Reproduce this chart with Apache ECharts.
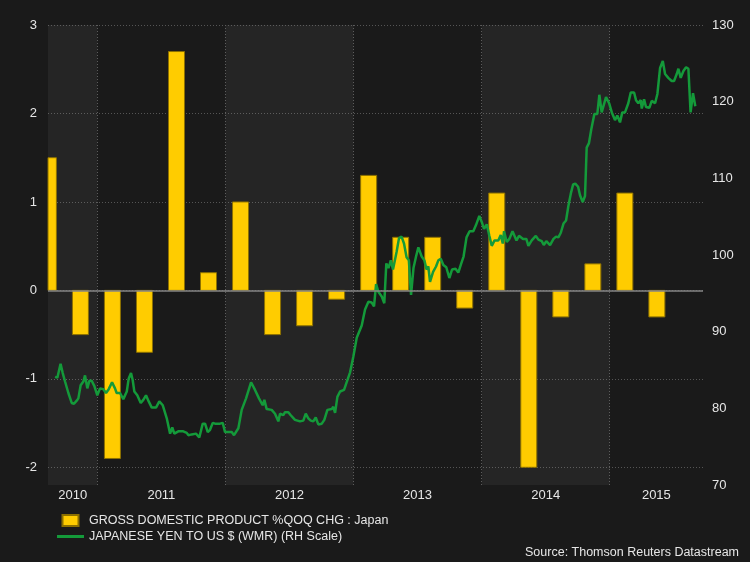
<!DOCTYPE html>
<html><head><meta charset="utf-8">
<script src="https://cdn.jsdelivr.net/npm/echarts@6/dist/echarts.min.js"></script>
<style>html,body{margin:0;padding:0;background:#1a1a1a;}#c{width:750px;height:562px;}</style>
</head><body><div id="c"></div>
<script>
// GDP quarterly % q/q change (Japan)
const quarters = ['2010Q3','2010Q4','2011Q1','2011Q2','2011Q3','2011Q4','2012Q1','2012Q2','2012Q3','2012Q4',
                  '2013Q1','2013Q2','2013Q3','2013Q4','2014Q1','2014Q2','2014Q3','2014Q4','2015Q1','2015Q2'];
const gdpQoQ = [1.5,-0.5,-1.9,-0.7,2.7,0.2,1.0,-0.5,-0.4,-0.1,1.3,0.6,0.6,-0.2,1.1,-2.0,-0.3,0.3,1.1,-0.3];

// JPY per USD (dates as decimal years)
const yenDates = [2010.670,2010.688,2010.713,2010.730,2010.748,2010.774,2010.800,2010.818,2010.839,2010.852,2010.870,2010.891,2010.904,2010.922,2010.938,2010.956,2010.977,2011.000,2011.021,2011.047,2011.068,2011.089,2011.115,2011.138,2011.151,2011.177,2011.203,2011.230,2011.245,2011.263,2011.276,2011.289,2011.312,2011.339,2011.359,2011.380,2011.401,2011.425,2011.458,2011.484,2011.511,2011.542,2011.568,2011.585,2011.601,2011.632,2011.671,2011.698,2011.710,2011.737,2011.770,2011.796,2011.823,2011.841,2011.862,2011.880,2011.901,2011.919,2011.958,2011.979,2011.997,2012.023,2012.049,2012.067,2012.101,2012.127,2012.161,2012.200,2012.231,2012.262,2012.291,2012.304,2012.322,2012.361,2012.387,2012.413,2012.426,2012.452,2012.465,2012.491,2012.510,2012.543,2012.582,2012.608,2012.627,2012.647,2012.666,2012.686,2012.705,2012.725,2012.752,2012.772,2012.796,2012.830,2012.842,2012.856,2012.874,2012.895,2012.926,2012.942,2012.973,2012.998,2013.025,2013.064,2013.090,2013.116,2013.142,2013.160,2013.176,2013.194,2013.220,2013.240,2013.256,2013.273,2013.291,2013.308,2013.336,2013.355,2013.375,2013.394,2013.414,2013.432,2013.449,2013.468,2013.488,2013.506,2013.532,2013.553,2013.570,2013.584,2013.597,2013.621,2013.644,2013.662,2013.681,2013.701,2013.724,2013.748,2013.769,2013.796,2013.818,2013.839,2013.859,2013.882,2013.906,2013.935,2013.956,2013.982,2014.003,2014.019,2014.040,2014.060,2014.079,2014.101,2014.130,2014.149,2014.165,2014.175,2014.196,2014.216,2014.241,2014.253,2014.272,2014.292,2014.323,2014.349,2014.365,2014.391,2014.423,2014.443,2014.469,2014.485,2014.505,2014.534,2014.561,2014.581,2014.599,2014.618,2014.639,2014.659,2014.677,2014.696,2014.714,2014.731,2014.753,2014.768,2014.789,2014.807,2014.820,2014.838,2014.856,2014.880,2014.903,2014.919,2014.937,2014.971,2014.995,2015.016,2015.041,2015.059,2015.080,2015.098,2015.119,2015.145,2015.164,2015.190,2015.205,2015.223,2015.242,2015.250,2015.268,2015.283,2015.309,2015.328,2015.354,2015.372,2015.393,2015.414,2015.432,2015.457,2015.484,2015.502,2015.523,2015.536,2015.554,2015.575,2015.596,2015.614,2015.631,2015.650,2015.668];
const yenValues = [84.1,84.0,85.8,84.6,83.5,82.0,80.7,80.6,81.0,81.3,83.0,83.5,84.3,82.6,83.6,83.6,82.9,81.7,82.6,82.5,82.0,82.5,83.4,82.6,82.0,82.0,81.2,82.2,83.9,84.6,83.7,82.2,81.7,80.7,81.1,81.7,80.9,80.1,80.1,80.9,80.4,78.7,76.7,77.5,76.7,77.0,77.0,76.8,76.5,76.6,76.7,76.2,78.0,78.0,76.9,77.2,78.1,78.0,78.0,78.1,76.9,76.9,76.9,76.5,77.4,79.8,81.3,83.4,82.4,81.3,80.4,81.1,79.9,79.8,79.3,78.3,79.3,79.1,79.5,79.5,79.1,78.5,78.3,78.4,79.3,78.7,78.4,78.3,78.8,77.9,78.0,78.5,79.8,79.9,80.2,79.4,81.5,82.2,82.4,83.2,84.7,86.7,89.2,90.8,92.9,93.9,93.8,93.3,96.2,95.2,94.6,93.7,98.9,98.3,99.3,98.1,100.4,102.2,102.4,101.5,99.7,99.3,94.8,98.3,99.8,101.0,99.8,99.3,98.1,98.5,96.5,97.8,98.5,99.3,99.5,98.7,98.4,97.0,98.1,98.2,97.7,98.8,99.8,102.3,103.1,103.1,103.9,105.1,104.2,103.4,104.0,102.5,101.2,101.9,101.9,102.6,101.5,103.1,101.7,102.1,103.1,103.1,101.9,102.5,102.1,102.1,101.2,101.9,102.5,102.0,101.8,101.3,101.8,101.3,102.1,102.4,102.3,102.9,104.1,104.5,106.4,108.0,109.2,109.3,108.9,107.8,106.9,107.7,114.0,114.6,116.4,118.4,118.4,120.9,118.6,120.6,119.8,118.6,117.6,118.2,117.3,118.6,118.6,119.8,121.2,121.2,120.2,119.8,120.2,119.1,120.3,119.3,119.2,120.1,119.8,121.0,124.4,125.3,123.6,123.1,122.7,122.7,123.6,124.3,123.1,124.0,124.5,124.3,118.6,121.1,119.4];

const xStart = 2010.615, xEnd = 2015.728;       // visible date range (decimal years)
const years = [2010, 2011, 2012, 2013, 2014, 2015];
const shadedYears = [2010, 2012, 2014];
const leftTicks = [-2, -1, 0, 1, 2, 3];
const rightTicks = [70, 80, 90, 100, 110, 120, 130];

const seriesNames = ['GROSS DOMESTIC PRODUCT %QOQ CHG : Japan', 'JAPANESE YEN TO US $ (WMR) (RH Scale)'];
const sourceText = 'Source: Thomson Reuters Datastream';

// helpers
function quarterMid(q) { const y = +q.slice(0, 4), n = +q.slice(5); return y + (n - 1) * 0.25 + 0.118; }
const barData = quarters.map((q, i) => [quarterMid(q), gdpQoQ[i]]);
const n = Math.min(yenDates.length, yenValues.length);
const lineData = []; for (let i = 0; i < n; i++) lineData.push([yenDates[i], yenValues[i]]);
const labelPos = years.map(y => (Math.max(y, xStart) + Math.min(y + 1, xEnd)) / 2);
const boundaries = years.slice(1);
const bands = shadedYears.map(y => [{ xAxis: Math.max(y, xStart) }, { xAxis: Math.min(y + 1, xEnd) }]);

const FONT = '"Liberation Sans", Arial, sans-serif';
const TXT = '#e6e6e6';
const BAR_W = 16;

const chart = echarts.init(document.getElementById('c'), null, { renderer: 'canvas' });
chart.setOption({
  backgroundColor: '#1a1a1a',
  animation: false,
  textStyle: { fontFamily: FONT },
  title: {
    text: sourceText, right: 11, top: 546, padding: 0,
    textStyle: { color: TXT, fontSize: 12.5, fontWeight: 'normal', fontFamily: FONT }
  },
  legend: {
    orient: 'vertical', left: 57, top: 514, padding: 0, itemGap: 3,
    itemWidth: 27, itemHeight: 11,
    textStyle: { color: TXT, fontSize: 12.5, fontFamily: FONT },
    data: [
      { name: seriesNames[0], icon: 'path://M0,0h16v11h-16z' },
      { name: seriesNames[1], icon: 'path://M0,0h27v3h-27z' }
    ]
  },
  grid: { left: 48, right: 47, top: 25, bottom: 77, containLabel: false },
  xAxis: {
    type: 'value', min: xStart, max: xEnd,
    axisLine: { show: false },
    axisTick: { show: false, customValues: boundaries },
    splitLine: { show: true, lineStyle: { color: '#5a5a5a', type: [1, 2], width: 1 } },
    axisLabel: {
      customValues: labelPos, color: TXT, fontSize: 13, fontFamily: FONT, margin: 4,
      formatter: v => String(Math.floor(v + 1e-9))
    }
  },
  yAxis: [
    {
      type: 'value', min: -2.2, max: 3, position: 'left',
      axisLine: { show: false }, axisTick: { show: false, customValues: leftTicks },
      splitLine: { show: true, lineStyle: { color: '#555555', type: [1, 2], width: 1 } },
      axisLabel: { customValues: leftTicks, color: TXT, fontSize: 13, fontFamily: FONT, margin: 11 }
    },
    {
      type: 'value', min: 70, max: 130, interval: 10, position: 'right',
      axisLine: { show: false }, axisTick: { show: false }, splitLine: { show: false },
      axisLabel: { color: TXT, fontSize: 13, fontFamily: FONT, margin: 9 }
    }
  ],
  series: [
    {
      name: 'year bands', type: 'line', xAxisIndex: 0, yAxisIndex: 0, data: [],
      markArea: { silent: true, itemStyle: { color: 'rgba(255,255,255,0.05)' }, data: bands },
      markLine: {
        silent: true, symbol: 'none', label: { show: false },
        lineStyle: { color: '#858585', type: 'solid', width: 1.5 },
        data: [{ yAxis: 0 }]
      }
    },
    {
      name: seriesNames[0], type: 'custom', xAxisIndex: 0, yAxisIndex: 0,
      data: barData, encode: { x: 0, y: 1 },
      itemStyle: { color: '#ffcc00', borderColor: '#8c7000', borderWidth: 1 },
      renderItem: function (params, api) {
        const x = api.value(0), v = api.value(1);
        const top = api.coord([x, v]);
        const base = api.coord([x, 0]);
        const cs = params.coordSys;
        const shape = echarts.graphic.clipRectByRect(
          { x: top[0] - BAR_W / 2, y: Math.min(top[1], base[1]), width: BAR_W, height: Math.abs(top[1] - base[1]) },
          { x: cs.x, y: cs.y, width: cs.width, height: cs.height }
        );
        if (!shape) return null;
        return { type: 'rect', shape: shape, style: { fill: '#ffcc00', stroke: '#8c7000', lineWidth: 1 } };
      }
    },
    {
      name: seriesNames[1], type: 'line', xAxisIndex: 0, yAxisIndex: 1,
      data: lineData, showSymbol: false, symbol: 'none',
      lineStyle: { color: '#149a3a', width: 2.5 },
      itemStyle: { color: '#149a3a' }
    }
  ]
});
</script>
</body></html>
